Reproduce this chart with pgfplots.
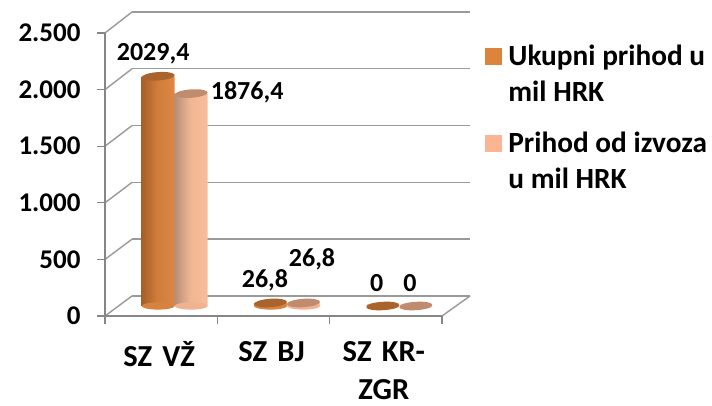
\documentclass[border=0pt]{standalone}
\usepackage{fontspec}
\setmainfont{Carlito}
\usepackage{pgfplots}
\usepackage{pgfplotstable}
\pgfplotsset{compat=1.18}
\definecolor{gridc}{HTML}{9A9A9A}
\definecolor{axc}{HTML}{868686}
\definecolor{aE}{HTML}{A5602A}
\definecolor{aF}{HTML}{D07C3C}
\definecolor{aM}{HTML}{E98F47}
\definecolor{bE}{HTML}{B88E76}
\definecolor{bF}{HTML}{F0B694}
\definecolor{bM}{HTML}{FFC29E}
\definecolor{aCap}{HTML}{A9632D}
\definecolor{bCap}{HTML}{C08C70}
\definecolor{aBase}{HTML}{D8823F}
\definecolor{bBase}{HTML}{F0B391}
\definecolor{aLeg}{HTML}{DC843C}
\definecolor{bLeg}{HTML}{FBB592}
\pgfdeclarehorizontalshading{cylA}{100bp}{color(0bp)=(aE); color(25bp)=(aE); color(28bp)=(aF); color(34bp)=(aM); color(66bp)=(aM); color(72bp)=(aF); color(75bp)=(aE); color(100bp)=(aE)}
\pgfdeclarehorizontalshading{cylB}{100bp}{color(0bp)=(bE); color(25bp)=(bE); color(28bp)=(bF); color(34bp)=(bM); color(66bp)=(bM); color(72bp)=(bF); color(75bp)=(bE); color(100bp)=(bE)}
\pgfdeclareplotmark{cap}{\pgfpathellipse{\pgfpointorigin}{\pgfpointpolar{4}{16.5pt}}{\pgfpointpolar{94}{4.2pt}}\pgfusepath{fill}}
\pgfdeclareplotmark{base}{\pgfpathellipse{\pgfpointorigin}{\pgfqpoint{16.5pt}{0pt}}{\pgfqpoint{0pt}{3.6pt}}\pgfusepath{fill}}
\pgfplotstableread{
x y label dx dy
0.353 2029.4 2029,4 -5 23
1.353 26.8 26,8 -5.5 23
2.353 0 0 -6 23
}\seriesA
\pgfplotstableread{
x y label dx dy
0.647 1876.4 1876,4 56 1
1.647 26.8 26,8 8.5 44
2.647 0 0 -6 23
}\seriesB
\newcommand{\lab}{\fontsize{27}{36}\selectfont\bfseries}
\begin{document}
\begin{tikzpicture}[x=1pt,y=1pt]
\path[use as bounding box,fill=white] (0,0) rectangle (712,406);
% back wall
\begin{axis}[at={(132pt,110pt)},anchor=south west,scale only axis,width=338pt,height=284pt,
  xmin=0,xmax=3,ymin=0,ymax=2500,ytick={0,500,...,2500},xtick=\empty,yticklabels={},
  axis line style={draw=none},major tick length=0pt,ymajorgrids,
  grid style={gridc,line width=1.4pt}]
\end{axis}
% side wall and floor edges
\foreach \k in {0,...,5}{\draw[gridc,line width=1.4pt] (105,90+56.6*\k) -- (132,110+56.8*\k);}
\draw[gridc,line width=1.4pt] (442,90) -- (470,110);
% front axes
\begin{axis}[at={(105pt,90pt)},anchor=south west,scale only axis,width=337pt,height=283pt,
  xmin=0,xmax=3,ymin=0,ymax=2500,axis x line=bottom,axis y line=left,
  axis line style={-,axc,line width=1.3pt},
  tick style={axc,line width=1.3pt},tick align=outside,major tick length=8pt,
  ytick={0,500,...,2500},xtick={0,1,2,3},xticklabels={},
  extra x ticks={0.5,1.5,2.5},
  extra x tick labels={SZ VŽ,SZ BJ,{SZ KR-\\[8pt]ZGR}},
  extra x tick style={major tick length=0pt,
    tick label style={font=\fontsize{30.5}{30.5}\selectfont\bfseries,align=center,text width=110pt,anchor=north,inner sep=0pt,yshift=-25pt,xshift=-2pt}},
  y tick label style={font=\lab,xshift=-13pt},
  /pgf/number format/.cd,fixed,1000 sep={.},assume math mode=true]
\end{axis}
% bars
\begin{axis}[at={(118.5pt,100pt)},anchor=south west,scale only axis,width=337pt,height=283pt,
  xmin=0,xmax=3,ymin=0,ymax=2500,hide axis,clip=false,
  legend style={at={(axis description cs:1.100,0.93)},anchor=north west,draw=none,fill=none,
    font=\fontsize{29.3}{36}\selectfont\bfseries,row sep=25pt,inner sep=0pt,
    cells={anchor=west,align=left}}]
% series 1
\addplot[only marks,mark=base,mark options={fill=aBase,draw=none},forget plot] table[x=x,y expr=0]{\seriesA};
\addplot[ybar,bar width=33pt,bar shift=0pt,draw=none,shade,shading=cylA,forget plot] table[x=x,y=y]{\seriesA};
\addplot[only marks,mark=cap,mark options={fill=aCap,draw=none},forget plot] table[x=x,y=y]{\seriesA};
% series 2
\addplot[only marks,mark=base,mark options={fill=bBase,draw=none},forget plot] table[x=x,y expr=0]{\seriesB};
\addplot[ybar,bar width=33pt,bar shift=0pt,draw=none,shade,shading=cylB,forget plot] table[x=x,y=y]{\seriesB};
\addplot[only marks,mark=cap,mark options={fill=bCap,draw=none},forget plot] table[x=x,y=y]{\seriesB};
% data labels
\addplot[draw=none,mark=none,forget plot,point meta=explicit symbolic,
  visualization depends on={\thisrow{dx}\as\lblx},visualization depends on={\thisrow{dy}\as\lbly},
  nodes near coords,every node near coord/.append style={font=\fontsize{26}{31}\selectfont\bfseries,anchor=center,inner sep=0pt,xshift=\lblx pt,yshift=\lbly pt}]
  table[x=x,y=y,meta=label]{\seriesA};
\addplot[draw=none,mark=none,forget plot,point meta=explicit symbolic,
  visualization depends on={\thisrow{dx}\as\lblx},visualization depends on={\thisrow{dy}\as\lbly},
  nodes near coords,every node near coord/.append style={font=\fontsize{26}{31}\selectfont\bfseries,anchor=center,inner sep=0pt,xshift=\lblx pt,yshift=\lbly pt}]
  table[x=x,y=y,meta=label]{\seriesB};
% legend
\addlegendimage{legend image code/.code={\path[draw=none,fill=none] (0pt,9pt) rectangle (17pt,26pt);\fill[draw=none,aLeg,overlay] (-4pt,9pt) rectangle (13pt,26pt);}}
\addlegendentry{Ukupni prihod u\\mil HRK}
\addlegendimage{legend image code/.code={\path[draw=none,fill=none] (0pt,9pt) rectangle (17pt,26pt);\fill[draw=none,bLeg,overlay] (-4pt,9pt) rectangle (13pt,26pt);}}
\addlegendentry{Prihod od izvoza\\u mil HRK}
\end{axis}
\end{tikzpicture}
\end{document}
